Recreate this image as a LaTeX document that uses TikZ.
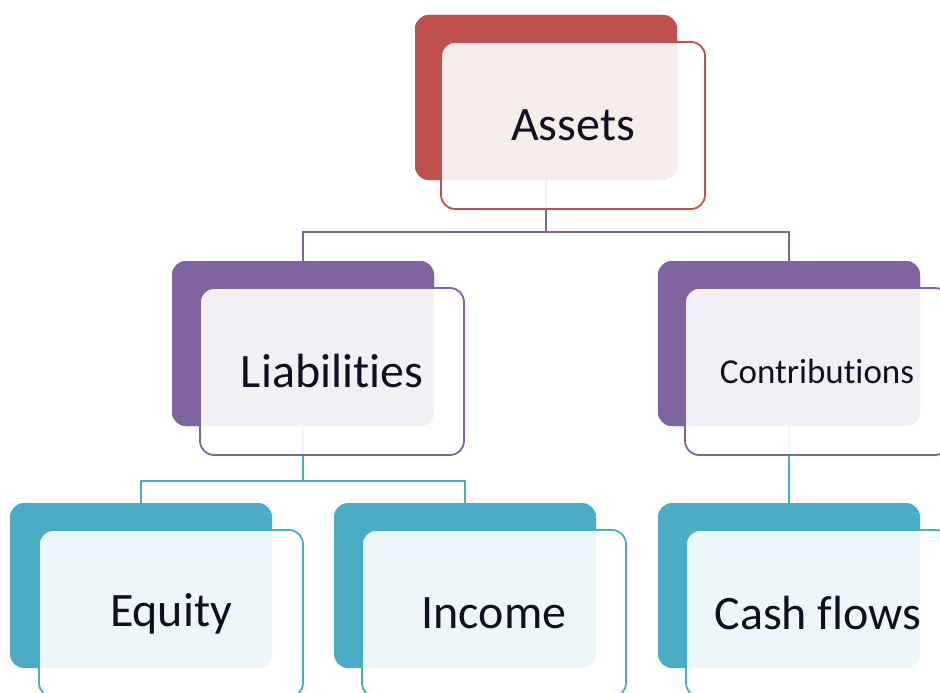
\documentclass[tikz,border=0pt]{standalone}
\usepackage{fontspec}
\setmainfont[Ligatures=NoCommon]{Carlito}
\definecolor{cred}{HTML}{C0504D}
\definecolor{cpurple}{HTML}{8064A2}
\definecolor{cteal}{HTML}{4BACC6}
\definecolor{ctext}{HTML}{101020}
\begin{document}
\begin{tikzpicture}[x=1pt,y=-1pt,
  backbox/.style={rectangle,rounded corners=14pt,minimum width=262pt,minimum height=165pt,inner sep=0pt,outer sep=0pt,anchor=north west,draw=none,fill=#1},
  frontbox/.style={rectangle,rounded corners=14pt,minimum width=264pt,minimum height=167pt,inner sep=0pt,outer sep=0pt,anchor=north west,draw=#1,line width=1.8pt,fill=white,fill opacity=0.9,text opacity=1,text=ctext,font=\fontsize{48}{50}\selectfont},
  conn/.style={draw=#1,line width=2pt}]
\useasboundingbox (0,0) rectangle (940,693);
\clip (0,0) rectangle (940,693);
% back boxes
\node[backbox=cred]    (assetsB) at (415,15) {};
\node[backbox=cpurple] (liabB)   at (172,261) {};
\node[backbox=cpurple] (contB)   at (658,261) {};
\node[backbox=cteal]   (eqB)     at (10,503) {};
\node[backbox=cteal]   (incB)    at (334,503) {};
\node[backbox=cteal]   (cashB)   at (658,503) {};
% connectors
\draw[conn=cpurple] (assetsB.south) -- ++(0,52) -| (liabB.north);
\draw[conn=cpurple] (assetsB.south) ++(0,52) -| (contB.north);
\draw[conn=cteal] (liabB.south) -- ++(0,55) -| (eqB.north);
\draw[conn=cteal] (liabB.south) ++(0,55) -| (incB.north);
\draw[conn=cteal] (contB.south) -- (cashB.north);
% redraw back boxes over connector starts
\node[backbox=cred]    at (415,15) {};
\node[backbox=cpurple] at (172,261) {};
\node[backbox=cpurple] at (658,261) {};
% front boxes
\node[frontbox=cred]    (assetsF) at (441,42) {Assets};
\node[frontbox=cpurple] (liabF)   at (200,288) {Liabilities};
\node[frontbox=cpurple,font=\fontsize{35}{38}\selectfont] (contF) at (685,288) {Contributions};
\node[frontbox=cteal]   (eqF)     at (39,530) {Equity};
\node[frontbox=cteal]   (incF)    at (362,530) {Income};
\node[frontbox=cteal]   (cashF)   at (686,530) {Cash flows};
\end{tikzpicture}
\end{document}
